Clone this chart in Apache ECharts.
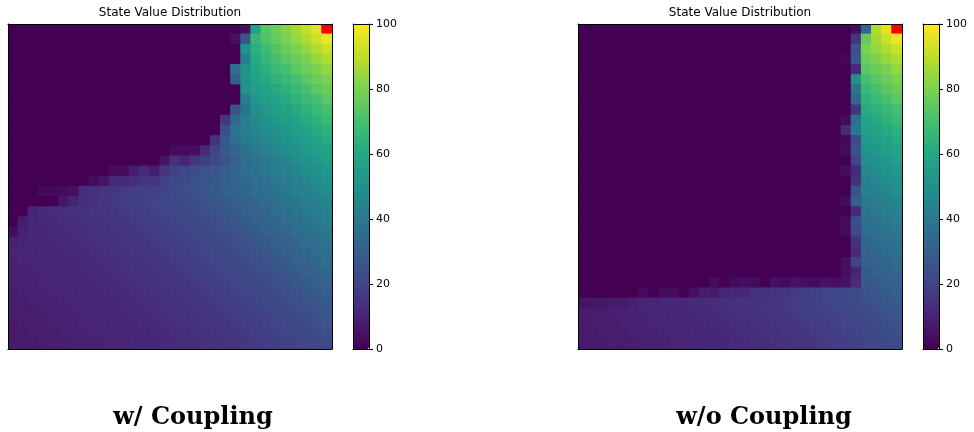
<!DOCTYPE html>
<html><head><meta charset="utf-8">
<script src="https://cdn.jsdelivr.net/npm/echarts@6/dist/echarts.min.js"></script>
<style>html,body{margin:0;padding:0;background:#fff}#c{width:974px;height:432px}</style>
</head><body><div id="c"></div>
<script>
// ---- data ----
const cellIndex = [0,1,2,3,4,5,6,7,8,9,10,11,12,13,14,15,16,17,18,19,20,21,22,23,24,25,26,27,28,29,30,31];
const colorbarTicks = [0,20,40,60,80,100];
const panelTitles = ['State Value Distribution','State Value Distribution'];
const panelCaptions = ['w/ Coupling','w/o Coupling'];
const viridis = ['#440154','#482475','#414487','#355f8d','#2a788e','#21918c','#22a884','#44bf70','#7ad151','#bddf26','#fde725'];
const goalColor = '#ff0000';

// rows top -> bottom, columns left -> right; value above 100 marks the goal cell (drawn red)
const coupledRows = [
[0,0,0,0,0,0,0,0,0,0,0,0,0,0,0,0,0,0,0,0,0,0,0,4,56,73,77,81,86,91,96,120],
[0,0,0,0,0,0,0,0,0,0,0,0,0,0,0,0,0,0,0,0,0,0,4,26,66,72,76,80,84,88,92,97],
[0,0,0,0,0,0,0,0,0,0,0,0,0,0,0,0,0,0,0,0,0,0,0,50,63,68,73,77,80,84,88,92],
[0,0,0,0,0,0,0,0,0,0,0,0,0,0,0,0,0,0,0,0,0,0,0,42,61,66,70,74,77,80,84,88],
[0,0,0,0,0,0,0,0,0,0,0,0,0,0,0,0,0,0,0,0,0,0,36,50,59,63,67,70,74,77,80,84],
[0,0,0,0,0,0,0,0,0,0,0,0,0,0,0,0,0,0,0,0,0,0,30,50,57,61,64,67,70,74,77,80],
[0,0,0,0,0,0,0,0,0,0,0,0,0,0,0,0,0,0,0,0,0,0,0,50,55,58,61,64,67,70,74,77],
[0,0,0,0,0,0,0,0,0,0,0,0,0,0,0,0,0,0,0,0,0,0,0,42,52,56,58,61,64,67,70,74],
[0,0,0,0,0,0,0,0,0,0,0,0,0,0,0,0,0,0,0,0,0,0,26,38,49,53,56,58,61,64,67,70],
[0,0,0,0,0,0,0,0,0,0,0,0,0,0,0,0,0,0,0,0,0,16,34,42,47,51,53,56,58,61,64,67],
[0,0,0,0,0,0,0,0,0,0,0,0,0,0,0,0,0,0,0,0,0,24,38,42,45,49,51,53,56,58,61,64],
[0,0,0,0,0,0,0,0,0,0,0,0,0,0,0,0,0,0,0,0,14,28,36,40,43,46,49,51,53,56,58,61],
[0,0,0,0,0,0,0,0,0,0,0,0,0,0,0,0,3,3,4,12,20,28,33,37,40,43,46,49,51,53,56,58],
[0,0,0,0,0,0,0,0,0,0,0,0,0,0,0,5,14,10,15,18,22,26,30,35,38,40,43,46,49,51,53,56],
[0,0,0,0,0,0,0,0,0,0,3,3,8,12,8,16,19,21,23,25,27,30,32,35,37,40,42,44,46,49,51,53],
[0,0,0,0,0,0,0,0,3,5,12,12,13,16,16,19,21,23,24,26,28,30,32,34,36,38,40,42,44,46,49,51],
[0,0,0,2,2,3,4,12,14,15,16,17,18,18,19,20,23,24,25,27,28,30,31,33,35,36,38,40,42,44,46,49],
[0,0,0,0,0,6,10,13,14,16,17,18,18,19,20,21,22,23,24,25,27,28,30,31,33,35,36,38,40,42,44,46],
[0,0,10,12,13,13,14,14,15,15,16,17,18,18,19,20,21,22,23,24,25,27,28,30,31,33,35,36,38,40,42,44],
[0,8,11,12,12,13,13,14,14,15,15,16,17,18,18,19,20,21,22,23,24,25,27,28,30,31,33,35,36,38,40,42],
[3,9,11,11,12,12,13,13,14,14,15,15,16,17,18,18,19,20,21,22,23,24,25,27,28,30,31,33,35,36,38,40],
[9,10,11,11,11,12,12,13,13,14,14,15,15,16,17,18,18,19,20,21,22,23,24,25,27,28,30,31,33,35,36,38],
[10,10,10,11,11,11,12,12,13,13,14,14,15,15,16,17,18,18,19,20,21,22,23,24,25,27,28,30,31,33,35,36],
[9,10,10,10,11,11,11,12,12,13,13,14,14,15,15,16,17,18,18,19,20,21,22,23,24,25,27,28,30,31,33,35],
[9,9,10,10,10,11,11,11,12,12,13,13,14,14,15,15,16,17,18,18,19,20,21,22,23,24,25,27,28,30,31,33],
[9,9,9,10,10,10,11,11,11,12,12,13,13,14,14,15,15,16,17,18,18,19,20,21,22,23,24,25,27,28,30,31],
[8,9,9,9,10,10,10,11,11,11,12,12,13,13,14,14,15,15,16,17,18,18,19,20,21,22,23,24,25,27,28,30],
[8,8,9,9,9,10,10,10,11,11,11,12,12,13,13,14,14,15,15,16,17,18,18,19,20,21,22,23,24,25,27,28],
[8,8,8,9,9,9,10,10,10,11,11,11,12,12,13,13,14,14,15,15,16,17,18,18,19,20,21,22,23,24,25,27],
[7,8,8,8,9,9,9,10,10,10,11,11,11,12,12,13,13,14,14,15,15,16,17,18,18,19,20,21,22,23,24,25],
[7,7,8,8,8,9,9,9,10,10,10,11,11,11,12,12,13,13,14,14,15,15,16,17,18,18,19,20,21,22,23,24],
[7,7,7,8,8,8,9,9,9,10,10,10,11,11,11,12,12,13,13,14,14,15,15,16,17,18,18,19,20,21,22,23]
];

const uncoupledRows = [
[0,0,0,0,0,0,0,0,0,0,0,0,0,0,0,0,0,0,0,0,0,0,0,0,0,0,0,3,32,88,96,120],
[0,0,0,0,0,0,0,0,0,0,0,0,0,0,0,0,0,0,0,0,0,0,0,0,0,0,0,15,76,86,92,97],
[0,0,0,0,0,0,0,0,0,0,0,0,0,0,0,0,0,0,0,0,0,0,0,0,0,0,0,26,80,84,88,92],
[0,0,0,0,0,0,0,0,0,0,0,0,0,0,0,0,0,0,0,0,0,0,0,0,0,0,2,27,77,80,84,88],
[0,0,0,0,0,0,0,0,0,0,0,0,0,0,0,0,0,0,0,0,0,0,0,0,0,0,0,12,74,77,80,84],
[0,0,0,0,0,0,0,0,0,0,0,0,0,0,0,0,0,0,0,0,0,0,0,0,0,0,0,50,70,74,77,80],
[0,0,0,0,0,0,0,0,0,0,0,0,0,0,0,0,0,0,0,0,0,0,0,0,0,0,0,38,67,70,74,77],
[0,0,0,0,0,0,0,0,0,0,0,0,0,0,0,0,0,0,0,0,0,0,0,0,0,0,0,33,64,67,70,74],
[0,0,0,0,0,0,0,0,0,0,0,0,0,0,0,0,0,0,0,0,0,0,0,0,0,0,0,16,61,64,67,70],
[0,0,0,0,0,0,0,0,0,0,0,0,0,0,0,0,0,0,0,0,0,0,0,0,0,0,3,36,58,61,64,67],
[0,0,0,0,0,0,0,0,0,0,0,0,0,0,0,0,0,0,0,0,0,0,0,0,0,0,12,40,56,58,61,64],
[0,0,0,0,0,0,0,0,0,0,0,0,0,0,0,0,0,0,0,0,0,0,0,0,0,0,2,22,53,56,58,61],
[0,0,0,0,0,0,0,0,0,0,0,0,0,0,0,0,0,0,0,0,0,0,0,0,0,0,3,25,51,53,56,58],
[0,0,0,0,0,0,0,0,0,0,0,0,0,0,0,0,0,0,0,0,0,0,0,0,0,0,0,20,49,51,53,56],
[0,0,0,0,0,0,0,0,0,0,0,0,0,0,0,0,0,0,0,0,0,0,0,0,0,0,3,12,46,49,51,53],
[0,0,0,0,0,0,0,0,0,0,0,0,0,0,0,0,0,0,0,0,0,0,0,0,0,0,0,14,44,46,49,51],
[0,0,0,0,0,0,0,0,0,0,0,0,0,0,0,0,0,0,0,0,0,0,0,0,0,0,0,26,42,44,46,49],
[0,0,0,0,0,0,0,0,0,0,0,0,0,0,0,0,0,0,0,0,0,0,0,0,0,0,3,30,40,42,44,46],
[0,0,0,0,0,0,0,0,0,0,0,0,0,0,0,0,0,0,0,0,0,0,0,0,0,0,0,12,38,40,42,44],
[0,0,0,0,0,0,0,0,0,0,0,0,0,0,0,0,0,0,0,0,0,0,0,0,0,0,3,24,36,38,40,42],
[0,0,0,0,0,0,0,0,0,0,0,0,0,0,0,0,0,0,0,0,0,0,0,0,0,0,3,22,35,36,38,40],
[0,0,0,0,0,0,0,0,0,0,0,0,0,0,0,0,0,0,0,0,0,0,0,0,0,0,0,14,33,35,36,38],
[0,0,0,0,0,0,0,0,0,0,0,0,0,0,0,0,0,0,0,0,0,0,0,0,0,0,0,12,31,33,35,36],
[0,0,0,0,0,0,0,0,0,0,0,0,0,0,0,0,0,0,0,0,0,0,0,0,0,0,4,20,30,31,33,35],
[0,0,0,0,0,0,0,0,0,0,0,0,0,0,0,0,0,0,0,0,0,0,0,0,0,0,4,10,28,30,31,33],
[0,0,0,0,0,0,0,0,0,0,0,0,0,3,0,3,4,3,0,4,3,5,4,3,5,4,5,12,27,28,30,31],
[0,0,0,0,0,0,3,0,3,3,0,4,8,7,10,11,11,14,14,15,16,17,18,19,20,21,22,23,25,27,28,30],
[5,6,6,7,7,9,10,10,11,11,11,12,12,13,13,14,14,15,15,16,17,18,18,19,20,21,22,23,24,25,27,28],
[8,8,8,9,9,9,10,10,10,11,11,11,12,12,13,13,14,14,15,15,16,17,18,18,19,20,21,22,23,24,25,27],
[7,8,8,8,9,9,9,10,10,10,11,11,11,12,12,13,13,14,14,15,15,16,17,18,18,19,20,21,22,23,24,25],
[7,7,8,8,8,9,9,9,10,10,10,11,11,11,12,12,13,13,14,14,15,15,16,17,18,18,19,20,21,22,23,24],
[7,7,7,8,8,8,9,9,9,10,10,10,11,11,11,12,12,13,13,14,14,15,15,16,17,18,18,19,20,21,22,23]
];

// ---- build chart ----
function toCells(rows){
  const out = [];
  rows.forEach((row, r) => row.forEach((v, c) => out.push([c, r, v])));
  return out;
}
const BLACK = '#000';
const lineOnly = { show:true, onZero:false, lineStyle:{ color:BLACK, width:1 } };
function catAxis(g, pos, inverse){
  return { type:'category', gridIndex:g, position:pos, data:cellIndex, inverse:!!inverse,
    axisLine:lineOnly, axisTick:{show:false}, axisLabel:{show:false},
    splitLine:{show:false}, splitArea:{show:false}, z:10 };
}
function plainAxis(g, pos){
  return { type:'value', gridIndex:g, position:pos, min:0, max:1,
    axisLine:lineOnly, axisTick:{show:false}, axisLabel:{show:false},
    splitLine:{show:false}, z:10 };
}
function barAxis(g){
  return { type:'value', gridIndex:g, position:'right', min:colorbarTicks[0],
    max:colorbarTicks[colorbarTicks.length-1], interval:20,
    axisLine:lineOnly,
    axisTick:{show:true, inside:false, length:4, lineStyle:{color:BLACK, width:1}},
    axisLabel:{show:true, margin:7, fontSize:11, color:BLACK, fontFamily:'DejaVu Sans',
      showMinLabel:true, showMaxLabel:true},
    splitLine:{show:false}, z:10 };
}
const heatGrids = [{left:8, top:24, width:324, height:325},{left:578, top:24, width:324, height:325}];
const barGrids = [{left:353, top:24, width:16, height:325},{left:923, top:24, width:16, height:325}];

// cells are drawn slightly oversized (and clipped to the grid) so no hairline seams show
const SEAM = 0.6;
function renderCell(params, api){
  const p = api.coord([api.value(0), api.value(1)]);
  const s = api.size([1, 1]);
  const color = api.visual('color');
  return { type:'rect',
    shape:{ x:p[0]-s[0]/2-SEAM, y:p[1]-s[1]/2-SEAM, width:s[0]+2*SEAM, height:s[1]+2*SEAM },
    style:{ fill:color } };
}

const option = {
  animation:false,
  backgroundColor:'#fff',
  grid: [heatGrids[0], heatGrids[1], barGrids[0], barGrids[1]],
  xAxis: [
    catAxis(0,'bottom'), catAxis(0,'top'),
    catAxis(1,'bottom'), catAxis(1,'top'),
    plainAxis(2,'bottom'), plainAxis(2,'top'),
    plainAxis(3,'bottom'), plainAxis(3,'top')
  ],
  yAxis: [
    catAxis(0,'left',true), catAxis(0,'right',true),
    catAxis(1,'left',true), catAxis(1,'right',true),
    barAxis(2), plainAxis(2,'left'),
    barAxis(3), plainAxis(3,'left')
  ],
  visualMap: [0,1].map(i => ({
    type:'continuous', seriesIndex:i, dimension:2, min:0, max:100,
    range:[0, 99.99],
    left:barGrids[i].left, top:barGrids[i].top,
    itemWidth:barGrids[i].width, itemHeight:barGrids[i].height,
    padding:0, calculable:false, realtime:false, hoverLink:false,
    text:null, show:true,
    inRange:{ color:viridis },
    outOfRange:{ color:[goalColor] },
    controller:{ inRange:{ color:viridis }, outOfRange:{ color:viridis } }
  })),
  series: [
    { type:'custom', xAxisIndex:0, yAxisIndex:0, data:toCells(coupledRows),
      dimensions:['col','row','value'], encode:{x:0, y:1},
      renderItem:renderCell, silent:true, progressive:0, clip:true },
    { type:'custom', xAxisIndex:2, yAxisIndex:2, data:toCells(uncoupledRows),
      dimensions:['col','row','value'], encode:{x:0, y:1},
      renderItem:renderCell, silent:true, progressive:0, clip:true }
  ],
  graphic: [
    { type:'text', x:170, y:13, z:100, style:{ text:panelTitles[0], font:'12px "DejaVu Sans"', fill:BLACK, align:'center', verticalAlign:'middle' } },
    { type:'text', x:740, y:13, z:100, style:{ text:panelTitles[1], font:'12px "DejaVu Sans"', fill:BLACK, align:'center', verticalAlign:'middle' } },
    { type:'text', x:193, y:418, z:100, style:{ text:panelCaptions[0], font:'bold 24px "DejaVu Serif"', fill:BLACK, align:'center', verticalAlign:'middle' } },
    { type:'text', x:764, y:418, z:100, style:{ text:panelCaptions[1], font:'bold 24px "DejaVu Serif"', fill:BLACK, align:'center', verticalAlign:'middle' } }
  ]
};
const chart = echarts.init(document.getElementById('c'), null, {renderer:'canvas'});
chart.setOption(option);
</script>
</body></html>
